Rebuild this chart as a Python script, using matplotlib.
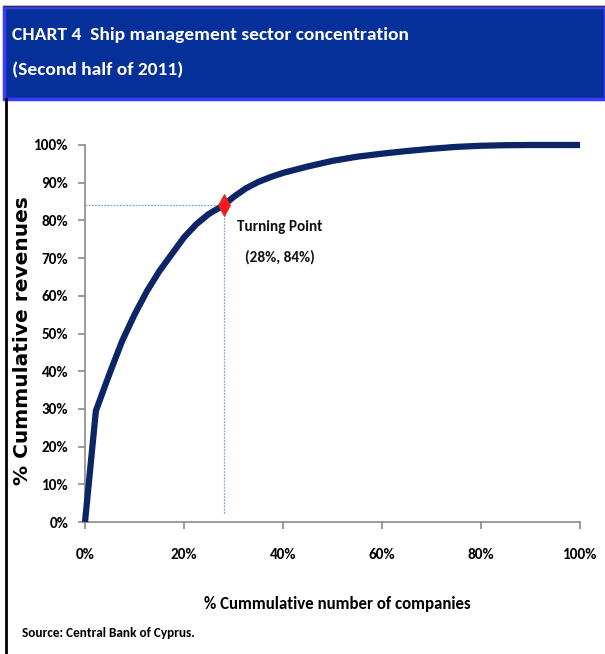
import matplotlib
matplotlib.use("Agg")
import matplotlib.pyplot as plt
from matplotlib.patches import Rectangle
from matplotlib.lines import Line2D
from matplotlib import font_manager

# Cumulative share of companies (%) vs cumulative share of revenues (%)
companies_pct = [0, 2.2, 5, 7.5, 10, 12.5, 15, 17.5, 20, 22.5, 25, 28, 30, 32.5, 35,
                 37.5, 40, 45, 50, 55, 60, 65, 70, 75, 80, 85, 90, 100]
revenues_pct = [0, 29.5, 39.5, 48, 55, 61.2, 66.5, 71, 75.5, 79, 81.7, 84, 86.2, 88.5,
                90.2, 91.5, 92.6, 94.3, 95.8, 96.9, 97.7, 98.4, 99.0, 99.5, 99.8,
                99.95, 100, 100]
turning_point = (28, 84)
ytick_values = [0, 10, 20, 30, 40, 50, 60, 70, 80, 90, 100]
xtick_values = [0, 20, 40, 60, 80, 100]

title_lines = ["CHART 4  Ship management sector concentration", "(Second half of 2011)"]
source_text = "Source: Central Bank of Cyprus."

names = {f.name for f in font_manager.fontManager.ttflist}
narrow = next((n for n in ["Carlito", "PT Sans Narrow", "Roboto Condensed",
                           "Archivo Narrow", "Open Sans Condensed", "Lato"]
               if n in names), "DejaVu Sans")

W, H = 605, 654
fig = plt.figure(figsize=(W / 100, H / 100), dpi=100)
fig.patch.set_facecolor("white")

def px(x, y):
    return x / W, 1 - y / H

# header band
band = Rectangle(px(4, 99), (W - 4) / W, 92 / H, transform=fig.transFigure,
                 facecolor="#05309a", edgecolor="#3b3bff", linewidth=2.5, zorder=1)
fig.add_artist(band)
fig.add_artist(Line2D([4 / W, 1], [1 - 6 / H, 1 - 6 / H], transform=fig.transFigure,
                      color="#333333", lw=1))
# left frame line
fig.add_artist(Line2D([5.5 / W, 5.5 / W], [1 - 99 / H, 0], transform=fig.transFigure,
                      color="black", lw=2))

fig.text(*px(12, 35), title_lines[0], color="white", fontsize=14, fontweight="bold",
         family=narrow, va="center", ha="left")
fig.text(*px(12, 70), title_lines[1], color="white", fontsize=14, fontweight="bold",
         family=narrow, va="center", ha="left")

ax = fig.add_axes([85 / W, 1 - 522 / H, (580 - 85) / W, (522 - 145) / H])
ax.set_xlim(0, 100)
ax.set_ylim(0, 100)
ax.plot(companies_pct, revenues_pct, color="#0b2566", lw=4.5, solid_capstyle="butt",
        solid_joinstyle="round", zorder=3, clip_on=False)

tx, ty = turning_point
ax.plot([0, tx], [ty, ty], color="#7ea6dc", lw=0.9, ls=(0, (1.5, 1)), zorder=2)
ax.plot([tx, tx], [ty, 2], color="#7ea6dc", lw=0.9, ls=(0, (1.5, 1)), zorder=2)
ax.plot([tx], [ty], marker="d", color="#ff1a1a", markersize=11, markeredgecolor="#d02a2a",
        markeredgewidth=0.6, zorder=4)

ax.text(tx + 2.8, ty - 5.8, "Turning Point", fontsize=11, fontweight="bold", family=narrow,
        ha="left", va="center", color="#111111")
ax.text(tx + 11.3, ty - 13.8, "(28%, 84%)", fontsize=11, fontweight="bold", family=narrow,
        ha="center", va="center", color="#111111")

for s in ["top", "right"]:
    ax.spines[s].set_visible(False)
for s in ["left", "bottom"]:
    ax.spines[s].set_color("#8a8a8a")
    ax.spines[s].set_linewidth(1.2)

ax.set_yticks(ytick_values)
ax.set_yticklabels([f"{v}%" for v in ytick_values])
ax.set_xticks(xtick_values)
ax.set_xticklabels([f"{v}%" for v in xtick_values])
ax.tick_params(axis="both", direction="out", length=5, width=1.2, color="#8a8a8a",
               labelsize=11, pad=7)
ax.tick_params(axis="x", pad=14)
for lab in ax.get_xticklabels() + ax.get_yticklabels():
    lab.set_fontweight("bold")
    lab.set_family(narrow)

fig.text(*px(23, 341), "% Cummulative revenues", rotation=90, fontsize=14.5,
         fontweight="bold", family="DejaVu Sans", va="center", ha="center")
fig.text(*px(337, 604), "% Cummulative number of companies", fontsize=12.2,
         fontweight="bold", family=narrow, va="center", ha="center")
fig.text(*px(22, 633), source_text, fontsize=9.5, fontweight="bold", family=narrow,
         va="center", ha="left")

fig.savefig("out.png", dpi=100, facecolor="white")
